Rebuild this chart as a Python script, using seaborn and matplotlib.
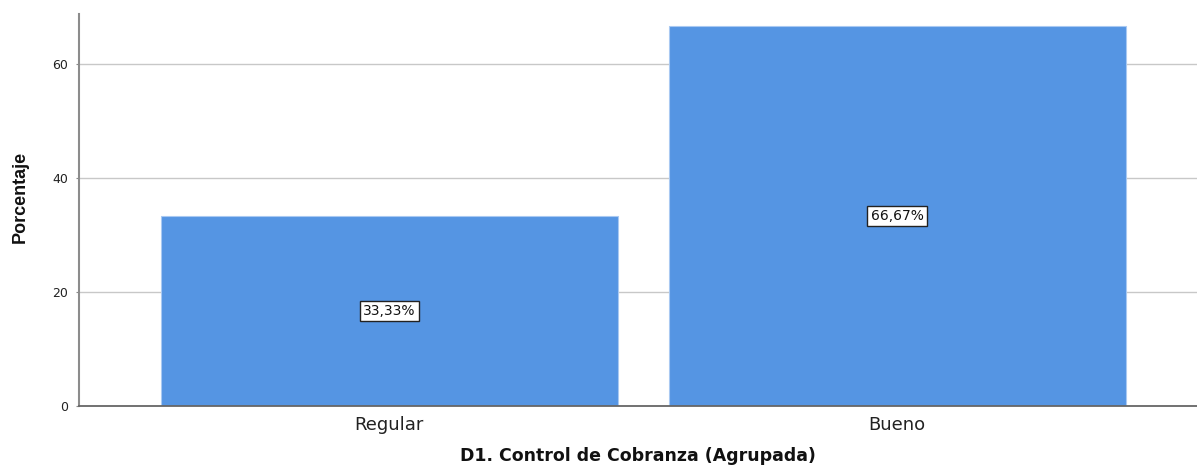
import matplotlib
matplotlib.use("Agg")
import matplotlib.pyplot as plt
import seaborn as sns
import pandas as pd

categories = ["Regular", "Bueno"]
percentages = [33.33, 66.67]
bar_labels = ["33,33%", "66,67%"]
yticks = [0, 20, 40, 60]

sns.set_theme(style="white")
plt.rcParams['font.family'] = ['DejaVu Sans']

df = pd.DataFrame({"cat": categories, "pct": percentages})

fig = plt.figure(figsize=(11.97, 4.66), dpi=100)
ax = fig.add_axes([79/1197, 60/466, 1 - 79/1197, 392/466])

sns.barplot(data=df, x="cat", y="pct", ax=ax, color="#5595e3", saturation=1,
            width=0.9, edgecolor="#a9c9f2", linewidth=0.8, zorder=2)

ax.set_xlim(-0.611, 1.59)
ax.set_ylim(0, 68.77)
ax.set_yticks(yticks)
ax.set_yticklabels([str(t) for t in yticks], fontsize=9, color="#222222")
ax.tick_params(axis='y', length=2, width=0.8, color="#888888", pad=6, left=True)
ax.tick_params(axis='x', length=0, labelsize=13, pad=7, labelcolor="#222222")

for t in yticks[1:]:
    ax.axhline(t, color="#c8c8c8", linewidth=1.0, zorder=1)

for s in ["top", "right"]:
    ax.spines[s].set_visible(False)
ax.spines["left"].set_color("#8c8c8c")
ax.spines["left"].set_linewidth(1.5)
ax.spines["bottom"].set_color("#666666")
ax.spines["bottom"].set_linewidth(1.3)

for i, (v, lab) in enumerate(zip(percentages, bar_labels)):
    ax.text(i, v / 2, lab, ha="center", va="center", fontsize=10, color="#111111",
            bbox=dict(boxstyle="square,pad=0.25", facecolor="white", edgecolor="#222222", linewidth=1.0),
            zorder=5)

ax.set_xlabel("D1. Control de Cobranza (Agrupada)", fontsize=12.5, fontweight="bold", color="#111111")
ax.xaxis.set_label_coords(0.5, -0.105)
ax.set_ylabel("Porcentaje", fontsize=13, fontweight="bold", color="#111111",
              family=["Liberation Sans Narrow", "Liberation Sans"])
ax.yaxis.set_label_coords(-0.045, 0.533)

fig.savefig("out.png", dpi=100)
